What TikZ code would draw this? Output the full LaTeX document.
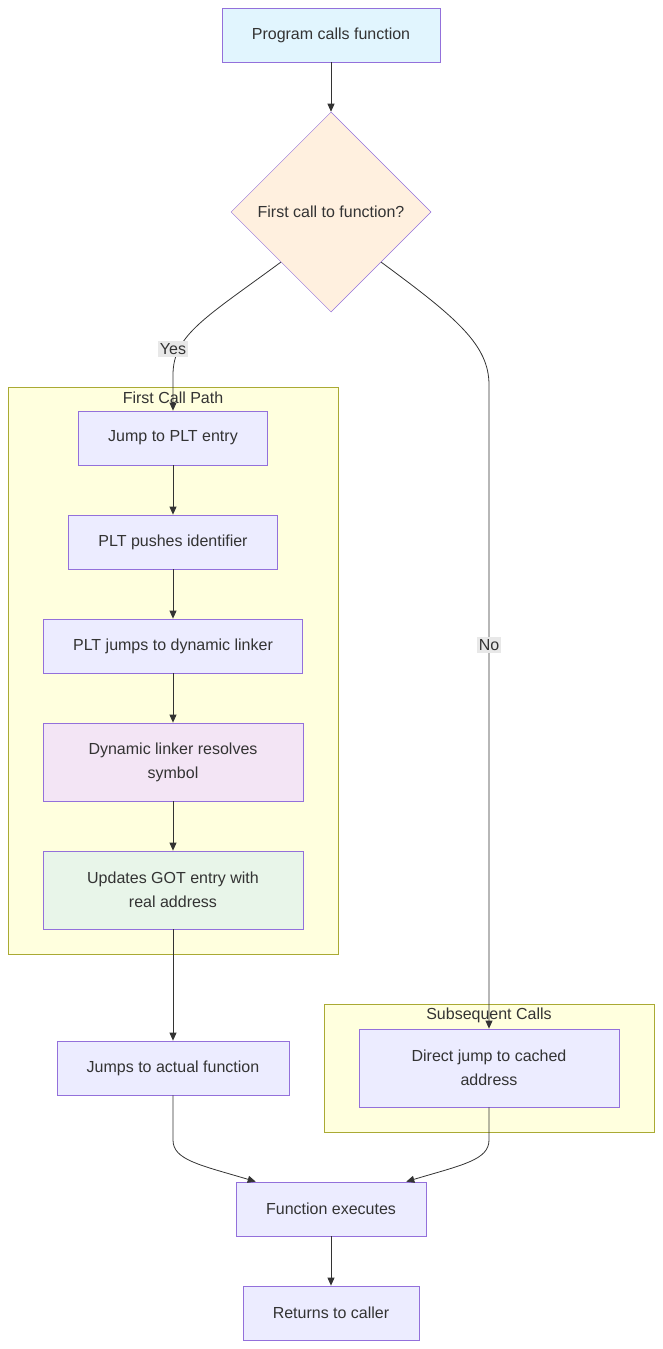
\documentclass[tikz,border=0pt]{standalone}
\usepackage{fontspec}
\setmainfont{Liberation Sans}
\usetikzlibrary{shapes.geometric,arrows.meta}
\definecolor{nodefill}{HTML}{ECECFF}
\definecolor{nodeline}{HTML}{9370DB}
\definecolor{startfill}{HTML}{E1F5FE}
\definecolor{askfill}{HTML}{FFF0DF}
\definecolor{linkfill}{HTML}{F3E5F5}
\definecolor{gotfill}{HTML}{E8F5E9}
\definecolor{clusterfill}{HTML}{FFFFDE}
\definecolor{clusterline}{HTML}{AAAA33}
\definecolor{lblfill}{HTML}{E8E8E8}
\definecolor{txt}{HTML}{333333}
\tikzset{
  box/.style={rectangle, draw=nodeline, fill=nodefill, line width=0.8pt, text=txt,
    align=center, inner sep=0pt, font=\fontsize{16}{24}\selectfont},
  cluster/.style={draw=clusterline, fill=clusterfill, line width=0.8pt},
  title/.style={text=txt, font=\fontsize{16}{20}\selectfont},
  lbl/.style={fill=lblfill, text=txt, inner sep=2pt, font=\fontsize{16}{20}\selectfont},
  flow/.style={->, draw=txt, line width=0.8pt}
}
\begin{document}
\begin{tikzpicture}[x=1pt,y=-1pt,>={Stealth[length=8pt,width=7pt,inset=0pt]}]
   \useasboundingbox (0,0) rectangle (662,1349);

   % 枠
   \draw[cluster] (8,387) rectangle (338,954);
   \node[title] (t1) at (173,398) {First Call Path};
   \draw[cluster] (324,1004) rectangle (654,1132);
   \node[title] (t2) at (489,1015) {Subsequent Calls};

   % ノード
   \node[box, fill=startfill, minimum width=218, minimum height=54] (start) at (331,35) {Program calls function};
   \node[box, diamond, aspect=1, fill=askfill, line width=0.5pt, minimum size=200] (ask) at (331,212) {First call to function?};
   \node[box, minimum width=189, minimum height=54] (plt) at (173,438) {Jump to PLT entry};
   \node[box, minimum width=209, minimum height=54] (push) at (173,542) {PLT pushes identifier};
   \node[box, minimum width=259, minimum height=54] (jmp) at (173,646) {PLT jumps to dynamic linker};
   \node[box, fill=linkfill, minimum width=260, minimum height=78] (res) at (173,762) {Dynamic linker resolves\\symbol};
   \node[box, fill=gotfill, minimum width=260, minimum height=78] (got) at (173,890) {Updates GOT entry with\\real address};
   \node[box, minimum width=232, minimum height=54] (act) at (173,1068) {Jumps to actual function};
   \node[box, minimum width=260, minimum height=78] (direct) at (489,1068) {Direct jump to cached\\address};
   \node[box, minimum width=190, minimum height=54] (exec) at (331,1209) {Function executes};
   \node[box, minimum width=176, minimum height=54] (ret) at (331,1313) {Returns to caller};

   % 矢印
   \draw[flow] (start) -- (ask);
   \draw[flow] (ask.south west) .. controls (205,318) and (173,335) .. (173,375) -- (plt.north);
   \draw[flow] (ask.south east) .. controls (457,318) and (489,345) .. (489,385) -- (direct.north);
   \draw[flow] (plt) -- (push);
   \draw[flow] (push) -- (jmp);
   \draw[flow] (jmp) -- (res);
   \draw[flow] (res) -- (got);
   \draw[flow] (got) -- (act);
   \draw[flow] (act.south) -- (173,1140) .. controls (173,1160) and (200,1165) .. (exec.160);
   \draw[flow] (direct.south) -- (489,1140) .. controls (489,1160) and (462,1165) .. (exec.20);
   \draw[flow] (exec) -- (ret);

   % ラベル
   \node[lbl] (yes) at (173,349) {Yes};
   \node[lbl] (no) at (489,645) {No};
\end{tikzpicture}
\end{document}
